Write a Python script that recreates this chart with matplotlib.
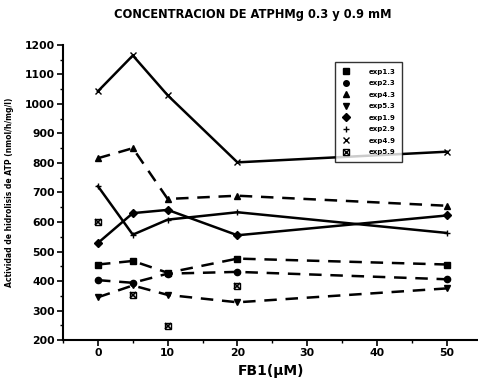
import matplotlib
matplotlib.use("Agg")
import matplotlib.pyplot as plt
from matplotlib.lines import Line2D
from matplotlib.ticker import MultipleLocator

plt.rcParams['font.family'] = ['DejaVu Sans']

# FB1 concentrations (uM)
fb1 = [0, 5, 10, 20, 50]

# ATP hydrolysis activity per experiment
exp1_3 = [456, 468, 428, 476, 456]
exp2_3 = [403, 394, 425, 431, 406]
exp4_3 = [816, 850, 678, 689, 655]
exp5_3 = [345, 385, 353, 328, 375]
exp1_9 = [529, 630, 641, 555, 622]
exp2_9 = [721, 557, 608, 633, 563]
exp4_9 = [1043, 1164, 1029, 802, 838]
exp5_9_x = [0, 5, 10, 20]
exp5_9 = [600, 353, 248, 384]

labels = ['exp1.3', 'exp2.3', 'exp4.3', 'exp5.3',
          'exp1.9', 'exp2.9', 'exp4.9', 'exp5.9']

fig = plt.figure(figsize=(4.78, 3.9), dpi=100)
ax = fig.add_axes([0.132, 0.128, 0.868, 0.757])

dash = (0, (5, 3.5))
lw = 1.8
ms = 4.5

series = [
    (exp1_3, 's', dash),
    (exp2_3, 'o', dash),
    (exp4_3, '^', dash),
    (exp5_3, 'v', dash),
    (exp1_9, 'D', '-'),
    (exp2_9, '+', '-'),
    (exp4_9, 'x', '-'),
]
for vals, mk, ls in series:
    ax.plot(fb1, vals, color='black', linestyle=ls, linewidth=lw,
            marker=mk, markersize=ms, markeredgewidth=1.0)
# boxed-cross marker for exp5.9 (square outline + x)
ax.plot(exp5_9_x, exp5_9, color='black', linestyle='none', marker='s',
        markersize=4.5, markerfacecolor='none', markeredgewidth=1.0)
ax.plot(exp5_9_x, exp5_9, color='black', linestyle='none', marker='x',
        markersize=4.5, markeredgewidth=1.2)

ax.set_xlim(-5, 54.5)
ax.set_ylim(200, 1200)
ax.xaxis.set_major_locator(MultipleLocator(10))
ax.xaxis.set_minor_locator(MultipleLocator(5))
ax.yaxis.set_major_locator(MultipleLocator(100))
ax.yaxis.set_minor_locator(MultipleLocator(50))
ax.spines['top'].set_visible(False)
ax.spines['right'].set_visible(False)
ax.spines['left'].set_linewidth(1.5)
ax.spines['bottom'].set_linewidth(1.5)
ax.tick_params(which='major', length=4, width=1.2, labelsize=7.8, pad=2)
ax.tick_params(which='minor', length=2, width=1.0)
for t in ax.get_xticklabels() + ax.get_yticklabels():
    t.set_fontweight('bold')

ax.set_xlabel('FB1(\u03bcM)', fontsize=10, fontweight='bold', labelpad=4)
ax.set_ylabel('Actividad de hidrolisis de ATP (nmol/h/mg/l)', fontsize=5.5,
              fontweight='bold', labelpad=8)

fig.text(0.528, 0.963, 'CONCENTRACION DE ATPHMg 0.3 y 0.9 mM',
         ha='center', va='center', fontsize=8.3, fontweight='bold')

markers = ['s', 'o', '^', 'v', 'D', '+', 'x']
handles = [Line2D([], [], color='black', linestyle='none', marker=m,
                  markersize=4) for m in markers]
handles.append((Line2D([], [], color='black', linestyle='none', marker='s',
                       markersize=4, markerfacecolor='none'),
                Line2D([], [], color='black', linestyle='none', marker='x',
                       markersize=4)))
leg = ax.legend(handles, labels, loc='upper left',
                bbox_to_anchor=(0.701, 0.842), bbox_transform=fig.transFigure,
                fontsize=5, frameon=True, fancybox=False, edgecolor='black',
                handlelength=1.2, handletextpad=2.6, labelspacing=0.8,
                borderpad=1.0, borderaxespad=0)
leg.get_frame().set_linewidth(1.0)
for t in leg.get_texts():
    t.set_fontweight('bold')

fig.savefig('out.png', dpi=100, facecolor='white')
